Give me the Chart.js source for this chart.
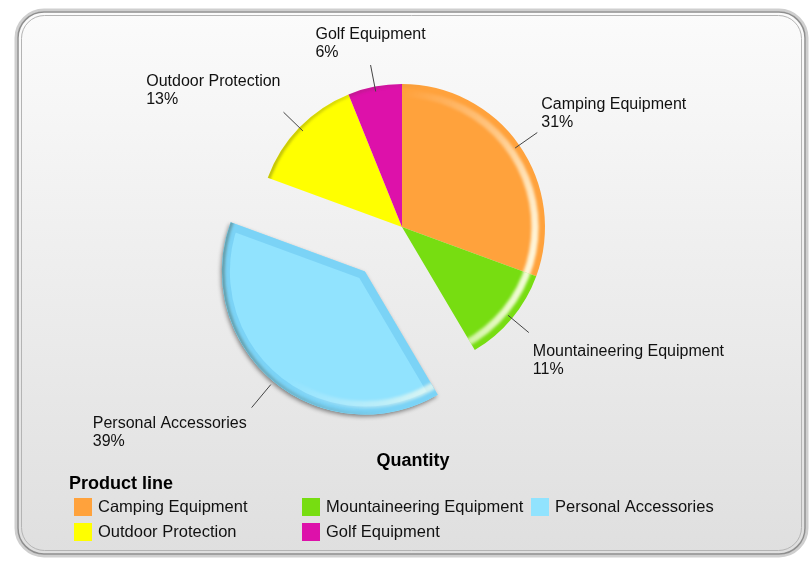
<!DOCTYPE html>
<html>
<head>
<meta charset="utf-8">
<script src="https://cdn.jsdelivr.net/npm/chart.js@4.4.1/dist/chart.umd.min.js"></script>
<style>
  html, body { margin: 0; padding: 0; background: #fff; }
  canvas { display: block; }
</style>
</head>
<body>
<canvas id="pie" width="812" height="561"></canvas>
<script>
// data (shares in %, labels show them rounded)
const categories = ["Camping Equipment", "Mountaineering Equipment", "Personal Accessories", "Outdoor Protection", "Golf Equipment"];
const quantityShare = [30.6, 10.9, 39.1, 13.3, 6.1];
const sliceColors = ["#ffa23c", "#77dd11", "#91e3fe", "#ffff00", "#dd11aa"];
const explodedCategory = "Personal Accessories";
const legendTitle = "Product line";
const measureTitle = "Quantity";

const FONT = "'Liberation Sans', Arial, sans-serif";
const EXPLODE_DIST = 58;

function roundRect(ctx, x, y, w, h, r) {
  ctx.beginPath();
  ctx.moveTo(x + r, y);
  ctx.lineTo(x + w - r, y);
  ctx.arcTo(x + w, y, x + w, y + r, r);
  ctx.lineTo(x + w, y + h - r);
  ctx.arcTo(x + w, y + h, x + w - r, y + h, r);
  ctx.lineTo(x + r, y + h);
  ctx.arcTo(x, y + h, x, y + h - r, r);
  ctx.lineTo(x, y + r);
  ctx.arcTo(x, y, x + r, y, r);
  ctx.closePath();
}

function slicePath(ctx, a, r) {
  ctx.beginPath();
  ctx.moveTo(a.x, a.y);
  ctx.arc(a.x, a.y, r, a.startAngle, a.endAngle);
  ctx.closePath();
}

// rounded panel behind the chart
const framePlugin = {
  id: "frame",
  beforeDraw(chart) {
    const ctx = chart.ctx;
    ctx.save();
    ctx.fillStyle = "#fff";
    ctx.fillRect(0, 0, chart.width, chart.height);
    const g = ctx.createLinearGradient(0, 12, 0, 555);
    g.addColorStop(0, "#fbfbfb");
    g.addColorStop(1, "#dfdfdf");
    roundRect(ctx, 16, 10, 791, 546, 28);
    ctx.fillStyle = g;
    ctx.fill();
    ctx.lineWidth = 3;
    ctx.strokeStyle = "#cfcfcf";
    ctx.stroke();
    roundRect(ctx, 18, 12, 787, 542, 26);
    ctx.lineWidth = 1.5;
    ctx.strokeStyle = "#8e8e8e";
    ctx.stroke();
    roundRect(ctx, 21.5, 15.5, 780, 535, 23);
    ctx.lineWidth = 1;
    ctx.strokeStyle = "#b4b4b4";
    ctx.stroke();
    ctx.restore();
  }
};

// pull the exploded slice away from the centre
const explodePlugin = {
  id: "explode",
  afterUpdate(chart) {
    const meta = chart.getDatasetMeta(0);
    meta.data.forEach((arc, i) => {
      if (categories[i] !== explodedCategory) return;
      const mid = (arc.startAngle + arc.endAngle) / 2;
      arc.x += Math.cos(mid) * EXPLODE_DIST;
      arc.y += Math.sin(mid) * EXPLODE_DIST;
    });
  },
  beforeDatasetsDraw(chart) {
    const ctx = chart.ctx;
    const meta = chart.getDatasetMeta(0);
    meta.data.forEach((arc, i) => {
      if (categories[i] !== explodedCategory) return;
      ctx.save();
      ctx.shadowColor = "rgba(0,0,0,0.45)";
      ctx.shadowBlur = 4;
      ctx.shadowOffsetX = -1;
      ctx.shadowOffsetY = 2;
      slicePath(ctx, arc, arc.outerRadius);
      ctx.fillStyle = sliceColors[i];
      ctx.fill();
      ctx.restore();
    });
  }
};

// rim highlight, shading and outside labels
const labelPlugin = {
  id: "sliceLabels",
  afterDatasetsDraw(chart) {
    const ctx = chart.ctx;
    const meta = chart.getDatasetMeta(0);
    const total = quantityShare.reduce((s, v) => s + v, 0);

    meta.data.forEach((arc, i) => {
      const R = arc.outerRadius;
      ctx.save();
      slicePath(ctx, arc, R);
      ctx.clip();
      if (categories[i] === explodedCategory) {
        slicePath(ctx, arc, R);
        ctx.lineJoin = "round";
        ctx.lineWidth = 16;
        ctx.strokeStyle = "rgba(70,170,225,0.28)";
        ctx.stroke();
      }
      // bright band near the rim, lit from the right
      const hl = ctx.createLinearGradient(arc.x - R * 0.2, arc.y - R * 0.3, arc.x + R, arc.y + R * 0.1);
      hl.addColorStop(0, "rgba(255,255,255,0)");
      hl.addColorStop(0.55, "rgba(255,255,240,0.4)");
      hl.addColorStop(1, "rgba(255,255,235,0.95)");
      ctx.filter = "blur(1.5px)";
      ctx.beginPath();
      ctx.arc(arc.x, arc.y, R * 0.93, 0, Math.PI * 2);
      ctx.lineWidth = R * 0.05;
      ctx.strokeStyle = hl;
      ctx.stroke();
      // darker edge on the left side
      const dk = ctx.createLinearGradient(arc.x - R, arc.y, arc.x + R * 0.2, arc.y);
      dk.addColorStop(0, "rgba(60,60,30,0.45)");
      dk.addColorStop(1, "rgba(60,60,30,0)");
      ctx.beginPath();
      ctx.arc(arc.x, arc.y, R - 1, 0, Math.PI * 2);
      ctx.lineWidth = 3;
      ctx.strokeStyle = dk;
      ctx.stroke();
      ctx.restore();
    });

    ctx.save();
    ctx.font = "16px " + FONT;
    ctx.fillStyle = "#111";
    ctx.strokeStyle = "#444";
    ctx.lineWidth = 1;
    ctx.textBaseline = "middle";
    ctx.textAlign = "left";
    meta.data.forEach((arc, i) => {
      const R = arc.outerRadius;
      const exploded = categories[i] === explodedCategory;
      const mid = (arc.startAngle + arc.endAngle) / 2;
      const c = Math.cos(mid), s = Math.sin(mid);
      const r0 = exploded ? R + 4 : R - 5;
      const r1 = exploded ? R + 34 : R + 22;
      const x0 = arc.x + c * r0, y0 = arc.y + s * r0;
      const x1 = arc.x + c * r1, y1 = arc.y + s * r1;
      ctx.beginPath();
      ctx.moveTo(x0, y0);
      ctx.lineTo(x1, y1);
      ctx.stroke();

      const lines = [categories[i], Math.round(quantityShare[i] / total * 100) + "%"];
      const w = Math.max(...lines.map(t => ctx.measureText(t).width));
      const lh = 18;
      const centred = Math.abs(c) < 0.35;
      let left;
      if (centred) left = x1 - w / 2;
      else if (c > 0) left = x1 + 4;
      else left = x1 - (s < 0 ? 3 : 5) - w;
      let top;
      if (s < 0) top = y1 - (centred ? 3 : c > 0 ? 1 : 4) - lines.length * lh;
      else top = y1 + (exploded ? 7 : 10);
      lines.forEach((t, k) => ctx.fillText(t, left, top + lh * k + lh / 2));
    });
    ctx.restore();
  }
};

// measure title and grid legend under the pie
const legendPlugin = {
  id: "gridLegend",
  afterDraw(chart) {
    const ctx = chart.ctx;
    ctx.save();
    ctx.fillStyle = "#000";
    ctx.textBaseline = "middle";
    ctx.font = "bold 18px " + FONT;
    ctx.textAlign = "center";
    ctx.fillText(measureTitle, 413, 461);
    ctx.textAlign = "left";
    ctx.fillText(legendTitle, 69, 484);

    const colX = [74, 302, 531];
    const rowY = [498, 523];
    ctx.font = "16.5px " + FONT;
    categories.forEach((name, i) => {
      const x = colX[i % 3], y = rowY[Math.floor(i / 3)];
      ctx.fillStyle = sliceColors[i];
      ctx.fillRect(x, y, 18, 18);
      ctx.fillStyle = "#111";
      ctx.fillText(name, x + 24, y + 9.5);
    });
    ctx.restore();
  }
};

new Chart(document.getElementById("pie"), {
  type: "pie",
  data: {
    labels: categories,
    datasets: [{
      data: quantityShare,
      backgroundColor: sliceColors,
      borderWidth: 0,
      radius: 143
    }]
  },
  options: {
    responsive: false,
    animation: false,
    events: [],
    layout: { padding: { left: 100, right: 108, top: 60, bottom: 167 } },
    plugins: {
      legend: { display: false },
      title: { display: false },
      tooltip: { enabled: false }
    }
  },
  plugins: [framePlugin, explodePlugin, labelPlugin, legendPlugin]
});
</script>
</body>
</html>
